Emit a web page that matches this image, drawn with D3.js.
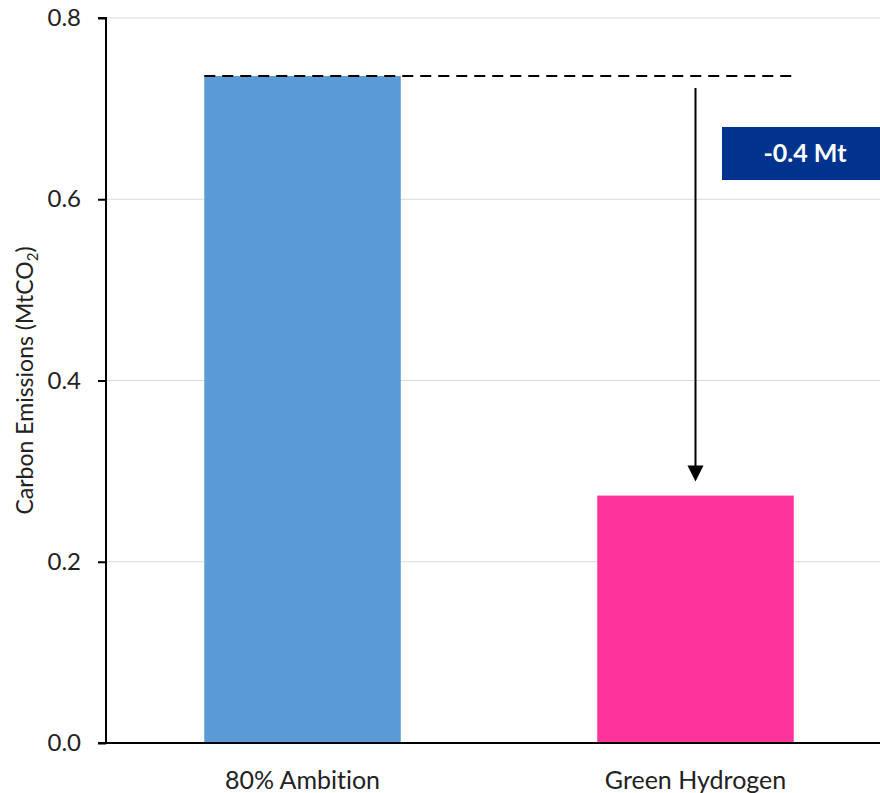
<!DOCTYPE html>
<html><head><meta charset="utf-8">
<script src="https://cdn.jsdelivr.net/npm/d3@7"></script>
<style>body{margin:0;background:#fff}svg{display:block}text{font-family:Lato,"Open Sans",sans-serif;font-variant-ligatures:none}</style>
</head><body><div id="c"></div>
<script>
const categories = ["80% Ambition", "Green Hydrogen"];
const values = [0.736, 0.273];
const colors = ["#5B9BD5", "#FF3399"];
const yTicks = [0, 0.2, 0.4, 0.6, 0.8];
const deltaLabel = "-0.4 Mt";

const W = 880, H = 793;
const svg = d3.select("#c").append("svg").attr("width", W).attr("height", H);
const x = d3.scaleBand().domain(categories).range([106, 892]).paddingInner(0.5).paddingOuter(0.25);
const y = d3.scaleLinear().domain([0, 0.8]).range([743, 18]);

// gridlines
svg.append("g").selectAll("line").data(yTicks.filter(d => d > 0)).join("line")
  .attr("x1", 106).attr("x2", W).attr("y1", d => y(d)).attr("y2", d => y(d))
  .attr("stroke", "#d9d9d9").attr("stroke-width", 1);

// bars
svg.append("g").selectAll("rect").data(categories).join("rect")
  .attr("x", d => x(d)).attr("width", x.bandwidth())
  .attr("y", (d, i) => y(values[i])).attr("height", (d, i) => y(0) - y(values[i]))
  .attr("fill", (d, i) => colors[i]);

// y axis
const yAxis = svg.append("g").attr("transform", "translate(106,0)")
  .call(d3.axisLeft(y).tickValues(yTicks).tickFormat(d3.format(".1f")).tickSize(8).tickPadding(17));
yAxis.select(".domain").attr("stroke", "#000").attr("stroke-width", 2).attr("d", `M-8,${y(0.8)}H0V${y(0)}`);
yAxis.selectAll(".tick line").attr("stroke", "#000").attr("stroke-width", 2);
yAxis.selectAll(".tick text").attr("font-size", 24).attr("fill", "#222");

// x axis
const xAxis = svg.append("g").attr("transform", `translate(0,${y(0)})`)
  .call(d3.axisBottom(x).tickSize(0).tickPadding(28));
xAxis.select(".domain").attr("stroke", "#000").attr("stroke-width", 2).attr("d", `M98,0H${W}`);
xAxis.selectAll(".tick text").attr("font-size", 25).attr("fill", "#222");

// y label
const yl = svg.append("text").attr("transform", `translate(33,${(y(0)+y(0.8))/2}) rotate(-90)`)
  .attr("text-anchor", "middle").attr("font-size", 23).attr("fill", "#222");
yl.append("tspan").text("Carbon Emissions (MtCO");
yl.append("tspan").attr("font-size", 15).attr("dy", 5).text("2");
yl.append("tspan").attr("dy", -5).text(")");

// dashed reference line
const x0 = x(categories[0]), x1 = x(categories[1]) + x.bandwidth();
svg.append("line").attr("x1", x0).attr("x2", x1 + 2)
  .attr("y1", y(values[0])).attr("y2", y(values[0]))
  .attr("stroke", "#000").attr("stroke-width", 2).attr("stroke-dasharray", "11,7");

// arrow
const ax = x(categories[1]) + x.bandwidth() / 2;
const tipY = y(values[1]) - 14;
svg.append("line").attr("x1", ax).attr("x2", ax).attr("y1", y(values[0]) + 12).attr("y2", tipY - 12)
  .attr("stroke", "#000").attr("stroke-width", 2);
svg.append("path").attr("d", `M${ax-8},${tipY-16}L${ax+8},${tipY-16}L${ax},${tipY}Z`).attr("fill", "#000");

// label box
svg.append("rect").attr("x", 722).attr("y", 127).attr("width", 170).attr("height", 53).attr("fill", "#00338D");
svg.append("text").attr("x", 805).attr("y", 162).attr("text-anchor", "middle")
  .attr("font-size", 25).attr("font-weight", "bold").attr("fill", "#fff").text(deltaLabel);
</script></body></html>
